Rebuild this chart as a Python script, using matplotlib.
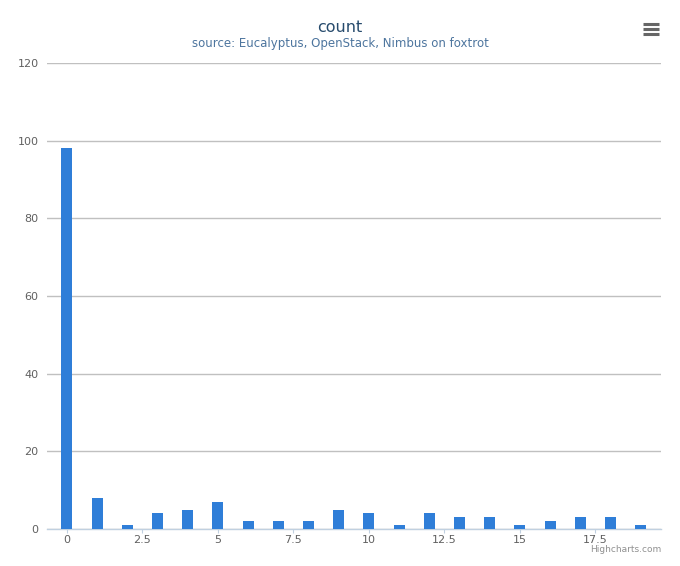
import matplotlib
matplotlib.use("Agg")
import matplotlib.pyplot as plt
from matplotlib.lines import Line2D

# data
positions = list(range(20))
counts = [98, 8, 1, 4, 5, 7, 2, 2, 2, 5, 4, 1, 4, 3, 3, 1, 2, 3, 3, 1]
y_ticks = [0, 20, 40, 60, 80, 100, 120]
x_ticks = [0, 2.5, 5, 7.5, 10, 12.5, 15, 17.5]
x_labels = ["0", "2.5", "5", "7.5", "10", "12.5", "15", "17.5"]

W, H = 680, 566
fig = plt.figure(figsize=(W / 100, H / 100), dpi=100)
ax = fig.add_axes([47 / W, 1 - 529 / H, (661 - 47) / W, (529 - 63) / H])

ax.bar(positions, counts, width=0.365, color="#2f7ed8", zorder=3)

ax.set_xlim(-0.66, 19.67)
ax.set_ylim(0, 120)
ax.set_yticks(y_ticks)
ax.set_xticks(x_ticks)
ax.set_xticklabels(x_labels)

ax.grid(axis="y", color="#c0c0c0", linewidth=1, zorder=0)
for side in ["left", "right", "top"]:
    ax.spines[side].set_visible(False)
ax.spines["bottom"].set_color("#c0d0e0")
ax.spines["bottom"].set_linewidth(1)

ax.tick_params(axis="y", length=0, labelsize=8, labelcolor="#606060", pad=6)
ax.tick_params(axis="x", length=3, color="#c0d0e0", labelsize=8,
               labelcolor="#606060", pad=1)

fig.text(340 / W, 1 - 27 / H, "count", ha="center", va="center",
         fontsize=11.5, color="#274b6d")
fig.text(340 / W, 1 - 44 / H, "source: Eucalyptus, OpenStack, Nimbus on foxtrot",
         ha="center", va="center", fontsize=8.5, color="#4d759e")
fig.text(661 / W, 1 - 550 / H, "Highcharts.com", ha="right", va="center",
         fontsize=6.5, color="#909090")

# menu icon
for yy in [24, 29, 34]:
    fig.add_artist(Line2D([643 / W, 659 / W], [1 - yy / H, 1 - yy / H],
                          color="#666666", linewidth=2.2, solid_capstyle="butt"))

fig.savefig("out.png", dpi=100)
